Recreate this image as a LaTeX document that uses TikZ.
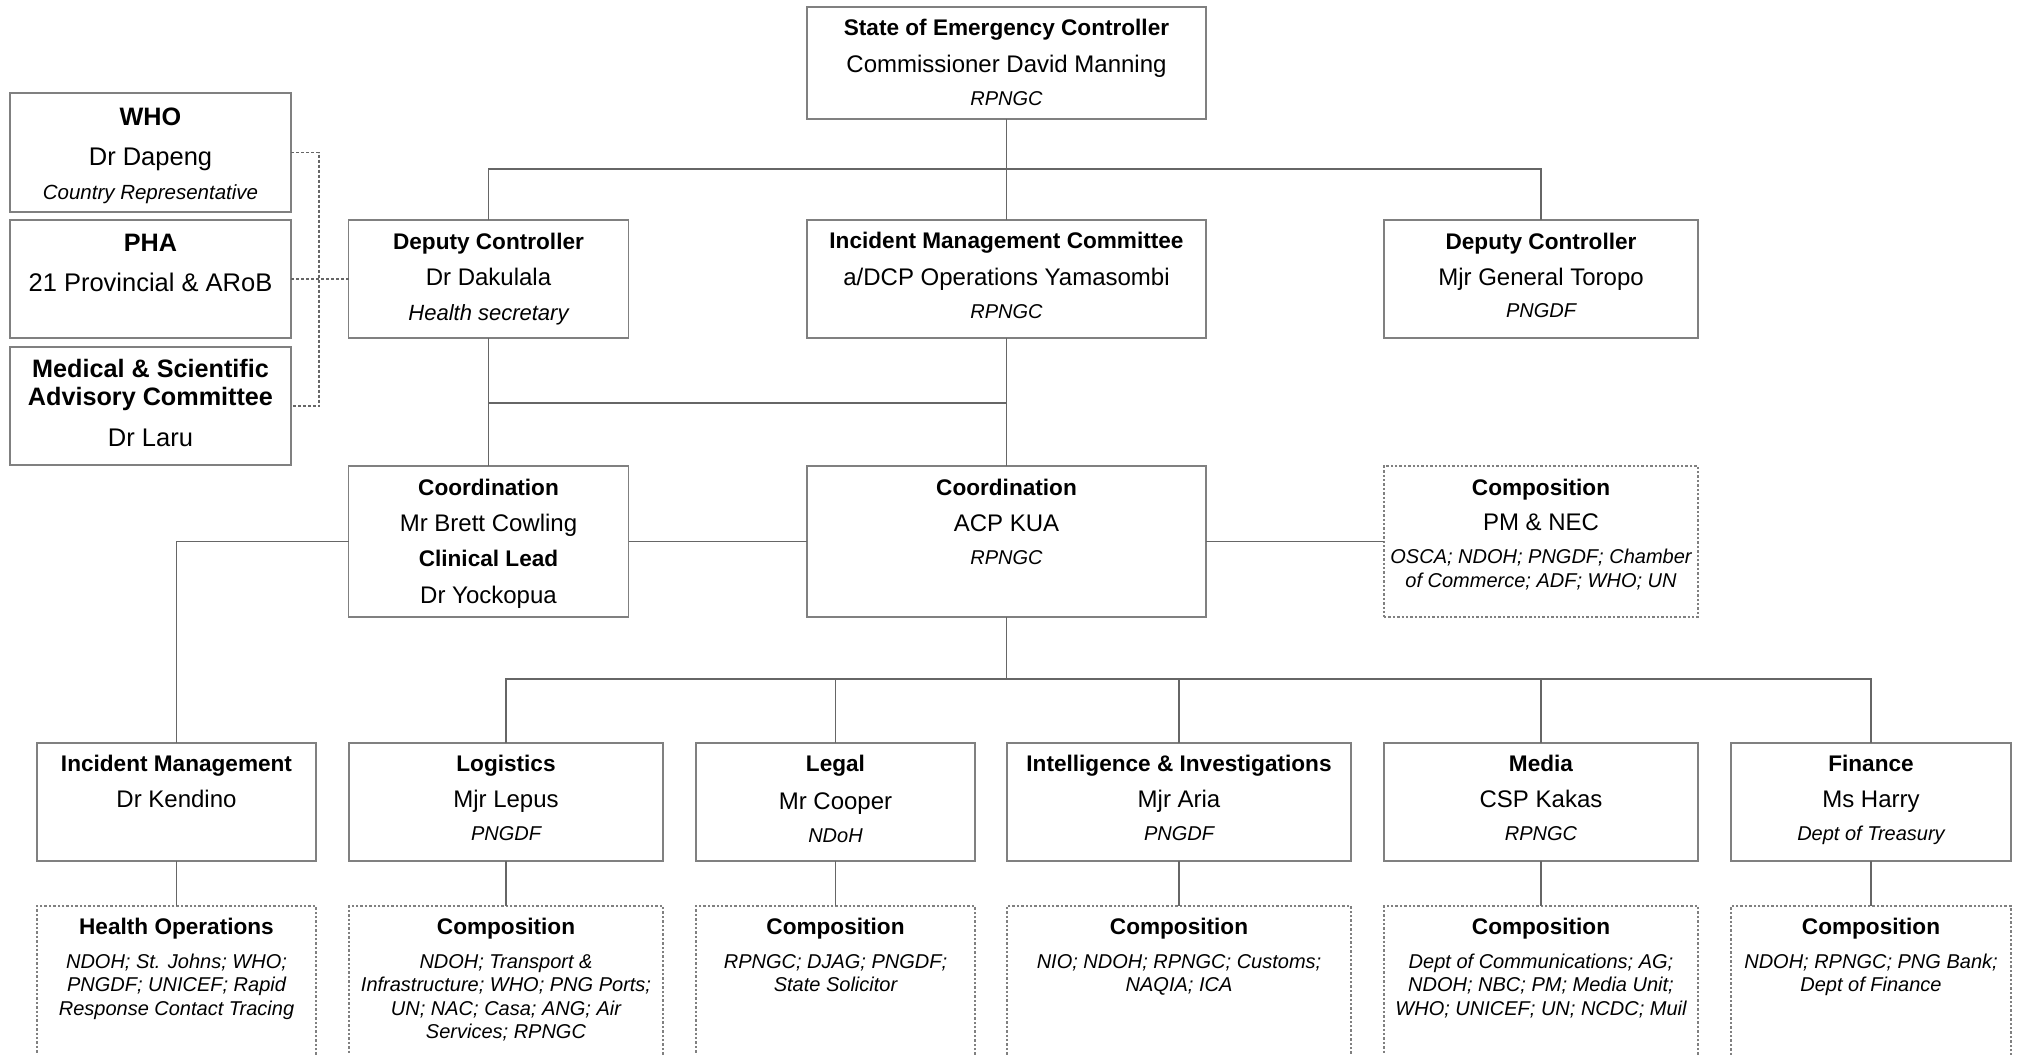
\documentclass[tikz,border=0pt]{standalone}
\usepackage{fontspec}
\setmainfont{Liberation Sans}
\usetikzlibrary{calc}
\definecolor{boxgray}{HTML}{808080}
\definecolor{linegray}{HTML}{666666}
\tikzset{
  box/.style={draw=boxgray, line width=0.7pt, inner sep=0pt, outer sep=0pt, rectangle},
  dbox/.style={draw=boxgray, line width=0.55pt, dash pattern=on 1.2pt off 1pt, inner sep=0pt, outer sep=0pt, rectangle},
  conn/.style={draw=linegray, line width=0.75pt},
  dconn/.style={draw=linegray, line width=0.6pt, dash pattern=on 1.5pt off 1pt},
  hb/.style={font=\fontsize{11.3pt}{13pt}\selectfont\bfseries, inner sep=0pt},
  rg/.style={font=\fontsize{12pt}{14pt}\selectfont, inner sep=0pt},
  it/.style={font=\fontsize{10pt}{12pt}\selectfont\itshape, inner sep=0pt},
  lhb/.style={font=\fontsize{12.6pt}{14pt}\selectfont\bfseries, inner sep=0pt},
  lrg/.style={font=\fontsize{12.75pt}{14pt}\selectfont, inner sep=0pt},
  lit/.style={font=\fontsize{10.25pt}{12pt}\selectfont\itshape, inner sep=0pt},
}
\newcommand\tx[5]{\node[#2,anchor=base] (#1) at ([yshift=-#4pt]#3.north) {#5};}
\begin{document}
\begin{tikzpicture}[x=0.5pt,y=-0.5pt]
\fill[white] (0,0) rectangle (2019,1055);
\clip (0,0) rectangle (2019,1055);

% ---------- boxes ----------
\node[box, minimum width=199.5pt, minimum height=56pt] (soe) at (1006.5,63) {};
\node[box, minimum width=140.5pt, minimum height=59.5pt] (who) at (150.5,152.5) {};
\node[box, minimum width=140.5pt, minimum height=59pt] (pha) at (150.5,279) {};
\node[box, minimum width=140.5pt, minimum height=59pt] (msac) at (150.5,406) {};
\node[box, minimum width=140pt, minimum height=59pt] (dcl) at (488.5,279) {};
\node[box, minimum width=199.5pt, minimum height=59pt] (imc) at (1006.5,279) {};
\node[box, minimum width=157pt, minimum height=59pt] (dcr) at (1541,279) {};
\node[box, minimum width=140pt, minimum height=75.5pt] (crdl) at (488.5,541.5) {};
\node[box, minimum width=199.5pt, minimum height=75.5pt] (crdc) at (1006.5,541.5) {};
\node[dbox, minimum width=157pt, minimum height=75.5pt] (comp) at (1541,541.5) {};

\node[box, minimum width=139.5pt, minimum height=59pt] (im) at (176.5,802) {};
\node[box, minimum width=157pt, minimum height=59pt] (log) at (506,802) {};
\node[box, minimum width=139.5pt, minimum height=59pt] (leg) at (835.5,802) {};
\node[box, minimum width=172pt, minimum height=59pt] (ii) at (1179,802) {};
\node[box, minimum width=157pt, minimum height=59pt] (med) at (1541,802) {};
\node[box, minimum width=140pt, minimum height=59pt] (fin) at (1871,802) {};

\node[dbox, minimum width=139.5pt, minimum height=84.5pt] (im5) at (176.5,990.5) {};
\node[dbox, minimum width=157pt, minimum height=84.5pt] (log5) at (506,990.5) {};
\node[dbox, minimum width=139.5pt, minimum height=84.5pt] (leg5) at (835.5,990.5) {};
\node[dbox, minimum width=172pt, minimum height=84.5pt] (ii5) at (1179,990.5) {};
\node[dbox, minimum width=157pt, minimum height=84.5pt] (med5) at (1541,990.5) {};
\node[dbox, minimum width=140pt, minimum height=84.5pt] (fin5) at (1871,990.5) {};

% ---------- connectors ----------
\coordinate (j1) at (1006.5,169);
\coordinate (j2) at (1006.5,403);
\coordinate (j3) at (1006.5,679);
\coordinate (jd) at (319,279);
\draw[conn] (soe.south) -- (imc.north);
\draw[conn] (dcl.north) |- (j1) -| (dcr.north);
\draw[conn] (dcl.south) -- (crdl.north);
\draw[conn] (imc.south) -- (crdc.north);
\draw[conn] (crdl.north |- j2) -- (j2);
\draw[conn] (crdl.west) -| (im.north);
\draw[conn] (crdl.east) -- (crdc.west);
\draw[conn] (crdc.east) -- (comp.west);
\draw[conn] (crdc.south) -- (j3);
\draw[conn] (log.north) |- (j3) -| (fin.north);
\draw[conn] (leg.north) -- (leg.north |- j3);
\draw[conn] (ii.north) -- (ii.north |- j3);
\draw[conn] (med.north) -- (med.north |- j3);
\draw[conn] (im.south) -- (im5.north);
\draw[conn] (log.south) -- (log5.north);
\draw[conn] (leg.south) -- (leg5.north);
\draw[conn] (ii.south) -- (ii5.north);
\draw[conn] (med.south) -- (med5.north);
\draw[conn] (fin.south) -- (fin5.north);
\draw[dconn] (who.east) -| (jd) |- (msac.east);
\draw[dconn] (pha.east) -- (dcl.west);

% ---------- texts ----------
\tx{soe1}{hb}{soe}{14}{State of Emergency Controller}
\tx{soe2}{rg}{soe}{32.5}{Commissioner David Manning}
\tx{soe3}{it}{soe}{49}{RPNGC}

\tx{who1}{lhb}{who}{16}{WHO}
\tx{who2}{lrg}{who}{36}{Dr Dapeng}
\tx{who3}{lit}{who}{53}{Country Representative}

\tx{pha1}{lhb}{pha}{15.5}{PHA}
\tx{pha2}{lrg}{pha}{35.5}{21 Provincial \& ARoB}

\tx{msac1}{lhb}{msac}{15}{Medical \& Scientific}
\tx{msac2}{lhb}{msac}{29}{Advisory Committee}
\tx{msac3}{lrg}{msac}{49.5}{Dr Laru}

\tx{dcl1}{hb}{dcl}{14.5}{Deputy Controller}
\tx{dcl2}{rg}{dcl}{32.5}{Dr Dakulala}
\tx{dcl3}{it}{dcl}{50}{\fontsize{11pt}{13pt}\selectfont Health secretary}

\tx{imc1}{hb}{imc}{14}{Incident Management Committee}
\tx{imc2}{rg}{imc}{32.5}{a/DCP Operations Yamasombi}
\tx{imc3}{it}{imc}{49}{RPNGC}

\tx{dcr1}{hb}{dcr}{14.5}{Deputy Controller}
\tx{dcr2}{rg}{dcr}{32.5}{Mjr General Toropo}
\tx{dcr3}{it}{dcr}{48.5}{PNGDF}

\tx{crdl1}{hb}{crdl}{14.5}{Coordination}
\tx{crdl2}{rg}{crdl}{32.5}{Mr Brett Cowling}
\tx{crdl3}{hb}{crdl}{50}{Clinical Lead}
\tx{crdl4}{rg}{crdl}{68.5}{Dr Yockopua}

\tx{crdc1}{hb}{crdc}{14.5}{Coordination}
\tx{crdc2}{rg}{crdc}{32.5}{ACP KUA}
\tx{crdc3}{it}{crdc}{49}{RPNGC}

\tx{comp1}{hb}{comp}{14.5}{Composition}
\tx{comp2}{rg}{comp}{32}{PM \& NEC}
\tx{comp3}{it}{comp}{48.5}{OSCA; NDOH; PNGDF; Chamber}
\tx{comp4}{it}{comp}{60.5}{of Commerce; ADF; WHO; UN}

\tx{im1}{hb}{im}{14}{Incident Management}
\tx{im2}{rg}{im}{32}{Dr Kendino}

\tx{log1}{hb}{log}{14}{Logistics}
\tx{log2}{rg}{log}{32}{Mjr Lepus}
\tx{log3}{it}{log}{48.5}{PNGDF}

\tx{leg1}{hb}{leg}{14}{Legal}
\tx{leg2}{rg}{leg}{33}{Mr Cooper}
\tx{leg3}{it}{leg}{49.5}{NDoH}

\tx{ii1}{hb}{ii}{14}{Intelligence \& Investigations}
\tx{ii2}{rg}{ii}{32}{Mjr Aria}
\tx{ii3}{it}{ii}{48.5}{PNGDF}

\tx{med1}{hb}{med}{14}{Media}
\tx{med2}{rg}{med}{32}{CSP Kakas}
\tx{med3}{it}{med}{48.5}{RPNGC}

\tx{fin1}{hb}{fin}{14}{Finance}
\tx{fin2}{rg}{fin}{32}{Ms Harry}
\tx{fin3}{it}{fin}{48.5}{Dept of Treasury}

\tx{im5a}{hb}{im5}{14}{Health Operations}
\tx{im5b}{it}{im5}{31}{NDOH; St. Johns; WHO;}
\tx{im5c}{it}{im5}{42.75}{PNGDF; UNICEF; Rapid}
\tx{im5d}{it}{im5}{54.5}{Response Contact Tracing}

\tx{log5a}{hb}{log5}{14}{Composition}
\tx{log5b}{it}{log5}{31}{NDOH; Transport \&}
\tx{log5c}{it}{log5}{42.75}{Infrastructure; WHO; PNG Ports;}
\tx{log5d}{it}{log5}{54.5}{UN; NAC; Casa; ANG; Air}
\tx{log5e}{it}{log5}{66}{Services; RPNGC}

\tx{leg5a}{hb}{leg5}{14}{Composition}
\tx{leg5b}{it}{leg5}{31}{RPNGC; DJAG; PNGDF;}
\tx{leg5c}{it}{leg5}{42.75}{State Solicitor}

\tx{ii5a}{hb}{ii5}{14}{Composition}
\tx{ii5b}{it}{ii5}{31}{NIO; NDOH; RPNGC; Customs;}
\tx{ii5c}{it}{ii5}{42.75}{NAQIA; ICA}

\tx{med5a}{hb}{med5}{14}{Composition}
\tx{med5b}{it}{med5}{31}{Dept of Communications; AG;}
\tx{med5c}{it}{med5}{42.75}{NDOH; NBC; PM; Media Unit;}
\tx{med5d}{it}{med5}{54.5}{WHO; UNICEF; UN; NCDC; Muil}

\tx{fin5a}{hb}{fin5}{14}{Composition}
\tx{fin5b}{it}{fin5}{31}{NDOH; RPNGC; PNG Bank;}
\tx{fin5c}{it}{fin5}{42.75}{Dept of Finance}
\end{tikzpicture}
\end{document}
